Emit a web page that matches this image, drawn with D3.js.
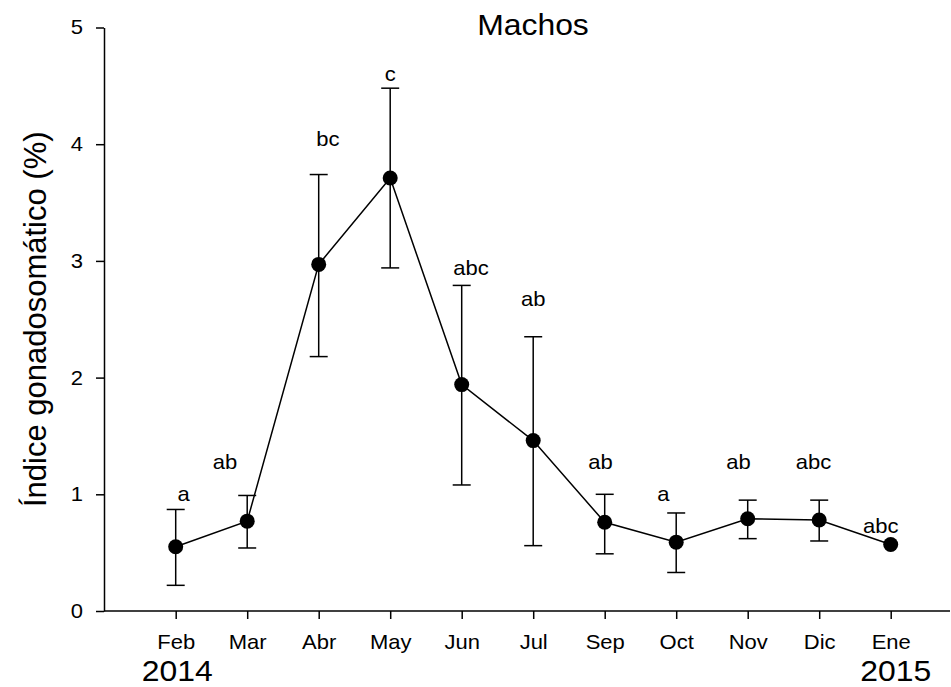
<!DOCTYPE html>
<meta charset="utf-8">
<style>
body {
    margin: 0;
    background: white;
    font-family: "Liberation Sans", Arial, sans-serif;
}

.axis path,
.axis line {
    fill: none;
    stroke: #000;
    stroke-width: 1.5px;
}

.axis text {
    font-family: "Liberation Sans", Arial, sans-serif;
    font-size: 20px;
    fill: #000;
}

.err,
.line {
    fill: none;
    stroke: #000;
    stroke-width: 1.5px;
}
</style>

<body>
    <script src="https://d3js.org/d3.v7.min.js"></script>
    <script>
    // months sampled (no August)
    var months = ["Feb", "Mar", "Abr", "May", "Jun", "Jul", "Sep", "Oct", "Nov", "Dic", "Ene"];
    // mean gonadosomatic index (%)
    var means = [0.55, 0.77, 2.97, 3.71, 1.94, 1.46, 0.76, 0.59, 0.79, 0.78, 0.57];
    // error bar limits (null = no bar)
    var upper = [0.87, 0.99, 3.74, 4.48, 2.79, 2.35, 1.00, 0.84, 0.95, 0.95, null];
    var lower = [0.22, 0.54, 2.18, 2.94, 1.08, 0.56, 0.49, 0.33, 0.62, 0.60, null];
    // significance letters and where they sit (dx in steps, baseline in % units)
    var letters = ["a", "ab", "bc", "c", "abc", "ab", "ab", "a", "ab", "abc", "abc"];
    var letterDx = [0.11, -0.31, 0.13, 0, 0.13, 0, -0.06, -0.18, -0.13, -0.08, -0.14];
    var letterY = [0.945, 1.214, 3.987, 4.542, 2.879, 2.614, 1.217, 0.945, 1.217, 1.217, 0.671];
    var yTicks = [0, 1, 2, 3, 4, 5];

    var width = 951, height = 687;
    var plotLeft = 104, plotRight = 950, plotTop = 27.5, plotBottom = 611;

    var data = months.map(function(m, i) {
        return { month: m, mean: means[i], hi: upper[i], lo: lower[i],
                 letter: letters[i], dx: letterDx[i], ly: letterY[i] };
    });

    var x = d3.scalePoint()
        .domain(months)
        .range([175.7, 890.7]);

    var y = d3.scaleLinear()
        .domain([0, 5])
        .range([plotBottom, plotTop]);

    var svg = d3.select("body")
        .append("svg")
        .attr("width", width)
        .attr("height", height);

    // the original text is a bit wider than Arial
    function stretch(sel) {
        sel.each(function() {
            var t = d3.select(this);
            var tx = +t.attr("data-x") || 0;
            t.attr("transform", "translate(" + tx + ",0) scale(1.1,1) translate(" + (-tx) + ",0)");
        });
    }

    // y axis
    var yAxis = svg.append("g")
        .attr("class", "y axis")
        .attr("transform", "translate(" + plotLeft + ",0)")
        .call(d3.axisLeft(y).tickValues(yTicks).tickFormat(d3.format("d"))
            .tickSize(8).tickSizeOuter(0).tickPadding(13));
    yAxis.selectAll("text").attr("data-x", -21).call(stretch);

    // x axis, baseline spans the full width
    var xAxis = svg.append("g")
        .attr("class", "x axis")
        .attr("transform", "translate(0," + plotBottom + ")")
        .call(d3.axisBottom(x).tickSize(8).tickPadding(16));
    xAxis.select(".domain").remove();
    xAxis.append("line")
        .attr("x1", plotLeft)
        .attr("x2", plotRight)
        .attr("y1", 0)
        .attr("y2", 0);
    xAxis.selectAll("text").call(stretch);

    // years under first and last month
    svg.append("text")
        .attr("x", x("Feb") + 1.5)
        .attr("y", 681)
        .attr("data-x", x("Feb") + 1.5)
        .attr("text-anchor", "middle")
        .style("font-size", "29px")
        .text("2014")
        .call(stretch);
    svg.append("text")
        .attr("x", x("Ene") + 5)
        .attr("y", 681)
        .attr("data-x", x("Ene") + 5)
        .attr("text-anchor", "middle")
        .style("font-size", "29px")
        .text("2015")
        .call(stretch);

    // y label
    svg.append("text")
        .attr("transform", "translate(46," + ((plotTop + plotBottom) / 2) + ") rotate(-90)")
        .attr("text-anchor", "middle")
        .style("font-size", "31px")
        .text("Índice gonadosomático (%)");

    // title
    svg.append("text")
        .attr("x", 533)
        .attr("y", 35)
        .attr("data-x", 533)
        .attr("text-anchor", "middle")
        .style("font-size", "29px")
        .text("Machos")
        .call(stretch);

    // error bars
    var bars = data.filter(function(d) { return d.hi != null; });
    var eb = svg.selectAll(".eb")
        .data(bars)
        .enter()
        .append("g")
        .attr("class", "eb");
    eb.append("line").attr("class", "err")
        .attr("x1", function(d) { return x(d.month); })
        .attr("x2", function(d) { return x(d.month); })
        .attr("y1", function(d) { return y(d.lo); })
        .attr("y2", function(d) { return y(d.hi); });
    eb.append("line").attr("class", "err")
        .attr("x1", function(d) { return x(d.month) - 9; })
        .attr("x2", function(d) { return x(d.month) + 9; })
        .attr("y1", function(d) { return y(d.hi); })
        .attr("y2", function(d) { return y(d.hi); });
    eb.append("line").attr("class", "err")
        .attr("x1", function(d) { return x(d.month) - 9; })
        .attr("x2", function(d) { return x(d.month) + 9; })
        .attr("y1", function(d) { return y(d.lo); })
        .attr("y2", function(d) { return y(d.lo); });

    // connecting line
    svg.append("path")
        .datum(data)
        .attr("class", "line")
        .attr("d", d3.line()
            .x(function(d) { return x(d.month); })
            .y(function(d) { return y(d.mean); }));

    // points
    svg.selectAll(".dot")
        .data(data)
        .enter()
        .append("circle")
        .attr("class", "dot")
        .attr("cx", function(d) { return x(d.month); })
        .attr("cy", function(d) { return y(d.mean); })
        .attr("r", 7.5)
        .attr("fill", "#000");

    // letters
    svg.selectAll(".letter")
        .data(data)
        .enter()
        .append("text")
        .attr("class", "letter")
        .attr("x", function(d) { return x(d.month) + d.dx * x.step(); })
        .attr("y", function(d) { return y(d.ly); })
        .attr("data-x", function(d) { return x(d.month) + d.dx * x.step(); })
        .attr("text-anchor", "middle")
        .style("font-size", "20px")
        .text(function(d) { return d.letter; })
        .call(stretch);
    </script>
</body>
